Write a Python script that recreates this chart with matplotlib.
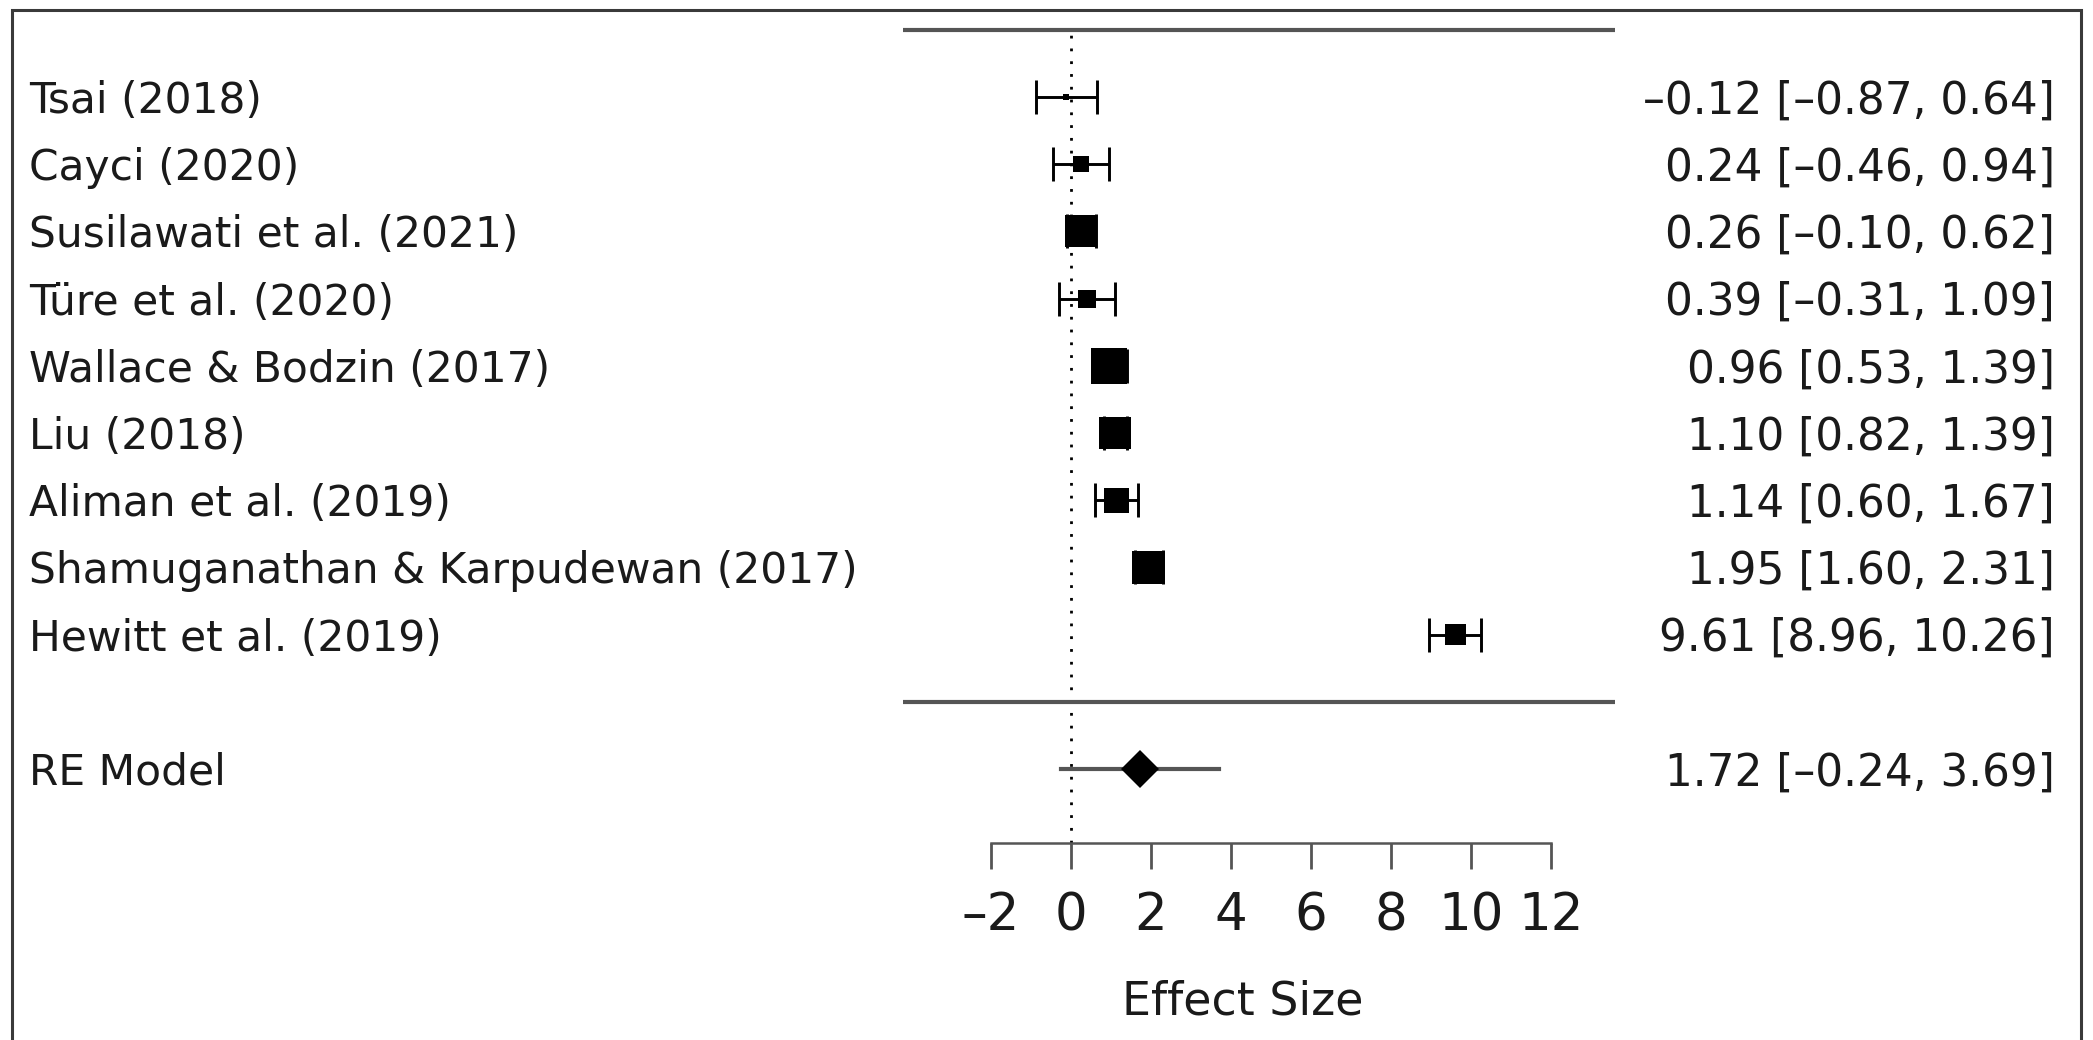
import numpy as np
import matplotlib
matplotlib.use("Agg")
import matplotlib.pyplot as plt
from matplotlib.patches import Rectangle

# study labels, effect sizes and 95% CIs (top to bottom)
studies = ["Tsai (2018)", "Cayci (2020)", "Susilawati et al. (2021)",
           "Türe et al. (2020)", "Wallace & Bodzin (2017)", "Liu (2018)",
           "Aliman et al. (2019)", "Shamuganathan & Karpudewan (2017)",
           "Hewitt et al. (2019)"]
effect = [-0.12, 0.24, 0.26, 0.39, 0.96, 1.10, 1.14, 1.95, 9.61]
ci_lo = [-0.87, -0.46, -0.10, -0.31, 0.53, 0.82, 0.60, 1.60, 8.96]
ci_hi = [0.64, 0.94, 0.62, 1.09, 1.39, 1.39, 1.67, 2.31, 10.26]

# box size (study weight), in pixels
box_px = [6, 16, 32, 18, 36, 32, 25, 33, 21]

re_label = "RE Model"
re_est = 1.72
re_lo = -0.24
re_hi = 3.69

xticks = [-2, 0, 2, 4, 6, 8, 10, 12]


def fmt(v):
    return ("%.2f" % v).replace("-", "\u2013")


fig = plt.figure(figsize=(20.93, 10.40), dpi=100)
ax = fig.add_axes([0, 0, 1, 1])
ax.set_xlim(-26.775, 25.55)
ax.set_ylim(-5.034, 10.442)

k = len(studies)
rows = np.arange(k, 0, -1)
axis_y = -2.1
dy = -0.06  # small nudge so text sits on the row centre
left_x = -26.05
right_x = 24.6

# separator lines and reference line at zero
ax.hlines([k + 1, 0], -4.2, 13.6, color="#555555", lw=3)
ax.plot([0, 0], [axis_y, k + 1], color="black", lw=2, ls=(0, (1, 3.6)), zorder=1)

# study CIs and weighted boxes
lo = np.array(effect) - np.array(ci_lo)
hi = np.array(ci_hi) - np.array(effect)
ax.errorbar(effect, rows, xerr=[lo, hi], fmt="none", ecolor="black",
            elinewidth=2.1, capsize=11.9, capthick=2.1, zorder=2)
ax.scatter(effect, rows, marker="s", s=(np.array(box_px) * 0.72) ** 2,
           color="black", linewidths=0, zorder=3)

# summary estimate
ax.plot([re_lo, re_hi], [-1, -1], color="#555555", lw=3, zorder=2)
ax.plot(re_est, -1, marker="D", ms=19.3, color="black", mew=0, zorder=3)

# texts on the left and right
for i in range(k):
    ax.text(left_x, rows[i] + dy, studies[i], ha="left", va="center",
            fontsize=30.5, color="#1a1a1a")
    ax.text(right_x, rows[i] + dy, "%s [%s, %s]" % (fmt(effect[i]), fmt(ci_lo[i]), fmt(ci_hi[i])),
            ha="right", va="center", fontsize=31.5, color="#1a1a1a")
ax.text(left_x, -1 + dy, re_label, ha="left", va="center", fontsize=30.5, color="#1a1a1a")
ax.text(right_x, -1 + dy, "%s [%s, %s]" % (fmt(re_est), fmt(re_lo), fmt(re_hi)),
        ha="right", va="center", fontsize=31.5, color="#1a1a1a")

# x axis
for s in ["top", "left", "right"]:
    ax.spines[s].set_visible(False)
ax.spines["bottom"].set_position(("data", axis_y))
ax.spines["bottom"].set_bounds(-2, 12)
ax.spines["bottom"].set_color("#555555")
ax.spines["bottom"].set_linewidth(1.8)
ax.set_yticks([])
ax.set_xticks(xticks)
ax.set_xticklabels([str(t).replace("-", "\u2013") for t in xticks])
ax.tick_params(axis="x", direction="out", length=18.7, width=2, color="#555555",
               labelsize=37, pad=16, labelcolor="#1a1a1a")
ax.set_xlabel("Effect Size", fontsize=33, color="#1a1a1a")
ax.xaxis.set_label_coords(4.3, -4.13, transform=ax.transData)

# outer frame (bottom edge is cut off in the original)
fig.add_artist(Rectangle((12 / 2093, -0.05), (2081 - 12) / 2093, 1 - 10 / 1040 + 0.05,
                         transform=fig.transFigure, fill=False, lw=2.2,
                         ec="#3a3a3a"))

fig.savefig("out.png", dpi=100)
